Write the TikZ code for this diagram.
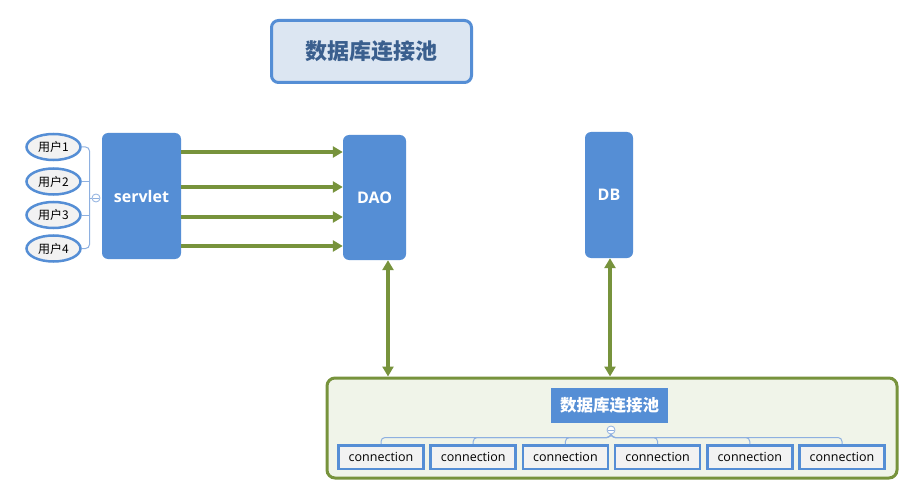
\documentclass[tikz,border=0pt]{standalone}
\usepackage{fontspec}
\setmainfont{Open Sans}
\newfontfamily\cjkfont{Noto Sans CJK SC}
\usetikzlibrary{arrows.meta,shapes.geometric,calc}
\definecolor{nodeblue}{HTML}{558ED5}
\definecolor{titlefill}{HTML}{DCE6F2}
\definecolor{titletext}{HTML}{3A5F8E}
\definecolor{arrowgreen}{HTML}{77933C}
\definecolor{poolfill}{HTML}{F0F4E9}
\definecolor{lightgray}{HTML}{F2F2F2}
\definecolor{treeline}{HTML}{8EB0E0}
\tikzset{
  bluebox/.style={draw=none,fill=nodeblue,rounded corners=6pt,text=white,font=\bfseries\fontsize{16}{18}\selectfont,inner sep=0pt},
  userell/.style={ellipse,draw=nodeblue,line width=2.5pt,fill=lightgray,minimum width=54pt,minimum height=26pt,inner sep=0pt,font=\cjkfont\fontsize{12}{14}\selectfont},
  connbox/.style={draw=nodeblue,line width=2.5pt,fill=lightgray,minimum width=85pt,minimum height=23.5pt,inner sep=0pt,font=\fontsize{12.5}{14}\selectfont},
  garrow/.style={draw=arrowgreen,line width=3.2pt,-{Triangle[length=10pt,width=11pt]}},
  gdarrow/.style={draw=arrowgreen,line width=3.2pt,{Triangle[length=10pt,width=11pt]}-{Triangle[length=10pt,width=11pt]}},
  tree/.style={draw=treeline,line width=1pt,rounded corners=4pt},
  collapse/.style={circle,draw=treeline,line width=0.8pt,fill=white,minimum size=8pt,inner sep=0pt},
}
\begin{document}
\begin{tikzpicture}[x=1pt,y=-1pt]
\useasboundingbox[fill=white] (0,0) rectangle (921,500);
% title
\node[draw=nodeblue,line width=3pt,fill=titlefill,rounded corners=7pt,minimum width=200pt,minimum height=62pt,inner sep=0pt,text=titletext,font=\cjkfont\bfseries\fontsize{22}{24}\selectfont] (title) at (371.5,51.5) {数据库连接池};
% main boxes
\node[bluebox,minimum width=79pt,minimum height=126pt] (servlet) at (141.5,196) {servlet};
\node[bluebox,minimum width=63pt,minimum height=125pt] (dao) at (374.5,197.5) {DAO};
\node[bluebox,minimum width=48pt,minimum height=126pt] (db) at (609,195) {DB};
% users
\node[userell] (u1) at (53.5,147) {用户1};
\node[userell] (u2) at (53.5,181.5) {用户2};
\node[userell] (u3) at (53.5,215) {用户3};
\node[userell] (u4) at (53.5,248.5) {用户4};
\coordinate (ub) at (89.5,198);
\draw[tree] (u1.east) -| (ub);
\draw[tree] (u4.east) -| (ub);
\draw[tree] (u2.east) -- (u2.east -| ub);
\draw[tree] (u3.east) -- (u3.east -| ub);
\node[collapse] (uc) at (96,198) {};
\draw[treeline,line width=0.7pt] ($(uc.west)+(1.5pt,0)$) -- ($(uc.east)+(-1.5pt,0)$);
\draw[tree] (ub) -- (uc.west);
% servlet -> DAO arrows
\foreach \yy/\nm in {152/a1,187/a2,217/a3,246/a4}{
  \coordinate (h\nm) at (0,\yy);
  \draw[garrow] (servlet.east |- h\nm) -- (dao.west |- h\nm);
}
% pool
\node[draw=arrowgreen,line width=3pt,fill=poolfill,rounded corners=8pt,minimum width=570pt,minimum height=100pt,inner sep=0pt] (pool) at (612,428) {};
\node[fill=nodeblue,minimum width=117pt,minimum height=35pt,inner sep=0pt,text=white,font=\cjkfont\bfseries\fontsize{16.5}{18}\selectfont] (ptitle) at (609.5,405.5) {数据库连接池};
\coordinate (pcc) at (611,430);
\coordinate (tl) at (0,437.5);
\foreach \i in {0,...,5}{
  \node[connbox] (c\i) at ({381+92.2*\i},457) {connection};
  \draw[tree] (pcc) |- (c\i.north |- tl) -- (c\i.north);
}
\node[collapse] (pc) at (pcc) {};
\draw[treeline,line width=0.7pt] ($(pc.west)+(1.5pt,0)$) -- ($(pc.east)+(-1.5pt,0)$);
% vertical double arrows
\coordinate (xa) at (388,0);
\coordinate (xb) at (610,0);
\draw[gdarrow] (dao.south -| xa) -- (pool.north -| xa);
\draw[gdarrow] (db.south -| xb) -- (pool.north -| xb);
\end{tikzpicture}
\end{document}
